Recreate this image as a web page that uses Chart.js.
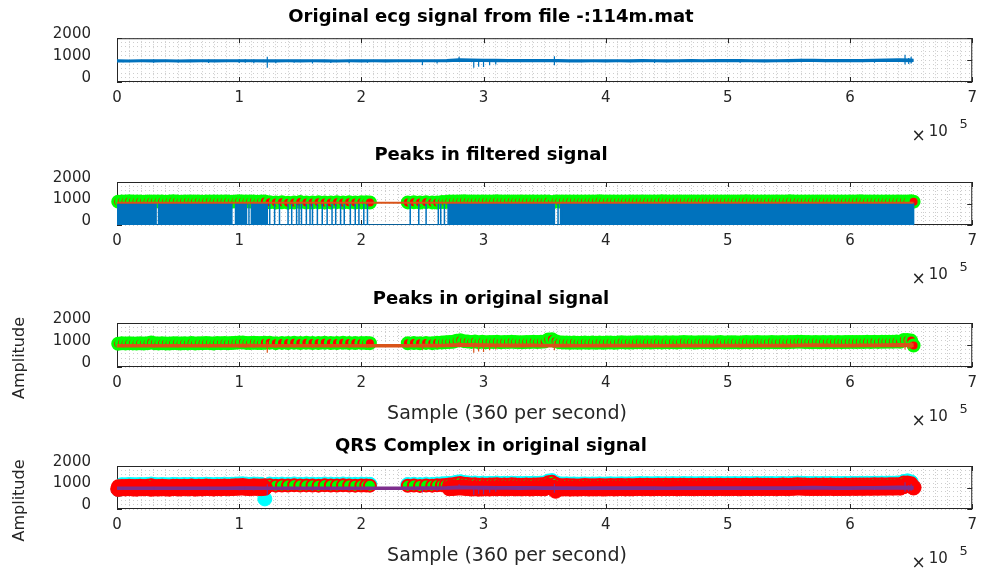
<!DOCTYPE html>
<html>
<head>
<meta charset="utf-8">
<title>ECG 114m</title>
<script src="https://cdn.jsdelivr.net/npm/chart.js@4.4.1/dist/chart.umd.min.js"></script>
<style>
  html, body { margin: 0; padding: 0; background: #fff; }
  #fig { position: relative; width: 984px; height: 575px; overflow: hidden; }
  #fig canvas { position: absolute; left: 0; }
</style>
</head>
<body>
<div id="fig">
  <canvas id="ax1" width="984" height="142" style="top:0px"></canvas>
  <canvas id="ax2" width="984" height="142" style="top:142px"></canvas>
  <canvas id="ax3" width="984" height="145" style="top:284px"></canvas>
  <canvas id="ax4" width="984" height="146" style="top:429px"></canvas>
</div>
<script>
// x is in samples x 10^5 (360 samples per second)
var titles = [
  'Original ecg signal from file -:114m.mat',
  'Peaks in filtered signal',
  'Peaks in original signal',
  'QRS Complex in original signal'
];
var xTickLabels = ['0', '1', '2', '3', '4', '5', '6', '7'];
var yTickLabels = ['0', '1000', '2000'];
var xAxisLabel = 'Sample (360 per second)';
var yAxisLabel = 'Amplitude';

// original ecg, upper and lower edge of the noise band
var ecgX = [0,0.1,0.2,0.3,0.4,0.5,0.6,0.7,0.8,0.9,
  1,1.1,1.2,1.3,1.4,1.5,1.6,1.7,1.8,1.9,
  2,2.1,2.2,2.3,2.4,2.5,2.6,2.7,2.8,2.9,
  3,3.1,3.2,3.3,3.4,3.5,3.6,3.7,3.8,3.9,
  4,4.1,4.2,4.3,4.4,4.5,4.6,4.7,4.8,4.9,
  5,5.1,5.2,5.3,5.4,5.5,5.6,5.7,5.8,5.9,
  6,6.1,6.2,6.3,6.4,6.5,6.52];
var ecgLo = [930,928,932,929,931,927,930,933,929,931,
  932,934,930,928,931,929,933,930,927,931,
  930,932,929,933,931,934,936,940,955,950,
  945,940,937,935,938,934,932,930,928,931,
  929,932,930,934,931,929,933,935,932,934,
  936,933,931,929,932,935,942,945,938,933,
  935,938,942,946,950,940,945];
var ecgHi = [1000,998,1003,999,1001,997,1000,1004,999,1002,
  1006,1008,1004,1000,1003,1001,1005,1002,998,1002,
  1001,1003,1000,1004,1002,1006,1010,1020,1045,1040,
  1030,1025,1020,1018,1021,1016,1012,1008,1005,1009,
  1006,1010,1007,1012,1008,1005,1010,1013,1009,1012,
  1015,1011,1008,1006,1010,1014,1025,1030,1020,1012,
  1015,1020,1028,1035,1045,1040,1030];

// single spikes standing out of the band
var spikeX  = [0.05,0.30,0.50,0.75,1.00,1.05,1.12,1.23,1.30,1.45,1.60,1.75,1.90,2.05,2.50,
  2.62,2.80,2.92,2.96,3.00,3.05,3.10,3.58,4.40,5.10,5.60,6.20,6.45,6.48,6.50];
var spikeLo = [900,880,890,870,870,880,860,650,860,880,850,870,860,880,780,
  840,950,650,700,680,760,800,760,870,880,900,880,800,820,850];
var spikeHi = [1010,1030,1020,1030,1040,1040,1030,1150,1010,1010,1010,1010,1010,1000,990,
  1000,1150,1020,1030,1040,1040,1030,1180,1040,1040,1060,1050,1240,1100,1150];

// filtered signal: solid blocks and single stems
var filtBlockStart = [0.00, 0.34, 0.97, 1.10, 2.71, 3.64];
var filtBlockEnd   = [0.32, 0.94, 1.06, 1.23, 3.58, 6.52];
var filtBlockTop   = [1000, 1000, 1000, 1000, 1000, 1000];
var filtStemX = [1.08,1.25,1.29,1.33,1.40,1.43,1.47,1.49,1.51,1.55,
  1.58,1.60,1.64,1.68,1.72,1.76,1.79,1.83,1.86,1.91,
  1.95,1.98,2.02,2.05,2.40,2.47,2.53,2.63,2.65,2.68,
  3.61,3.63];
var filtStemTop = [990,1000,985,995,1000,980,995,990,1000,985,
  995,1000,990,985,1000,995,990,1000,985,995,
  990,1000,985,995,1000,990,995,985,1000,990,
  995,1000];
var threshX = [0, 6.52];
var threshY = [1040, 1040];

// detected R peaks
var peakX = [0.01,0.04,0.07,0.10,0.13,0.16,0.19,0.22,0.25,0.28,
  0.31,0.34,0.37,0.40,0.43,0.46,0.49,0.52,0.55,0.58,
  0.61,0.64,0.67,0.70,0.73,0.76,0.79,0.82,0.85,0.88,
  0.91,0.94,0.97,1.00,1.03,1.06,1.09,1.12,1.15,1.18,
  1.21,
  1.25,1.30,1.35,1.40,1.45,1.50,1.55,1.60,1.65,1.70,
  1.75,1.80,1.85,1.90,1.95,2.00,2.04,2.07,
  2.38,2.43,2.48,2.53,2.58,2.62,2.66,2.69,
  2.72,2.75,2.78,2.81,2.84,2.87,2.90,2.93,2.96,2.99,
  3.02,3.05,3.08,3.11,3.14,3.17,3.20,3.23,3.26,3.29,
  3.32,3.35,3.38,3.41,3.44,3.47,3.50,3.53,3.56,3.59,
  3.62,3.65,3.68,3.71,3.74,3.77,3.80,3.83,3.86,3.89,
  3.92,3.95,3.98,4.01,4.04,4.07,4.10,4.13,4.16,4.19,
  4.22,4.25,4.28,4.31,4.34,4.37,4.40,4.43,4.46,4.49,
  4.52,4.55,4.58,4.61,4.64,4.67,4.70,4.73,4.76,4.79,
  4.82,4.85,4.88,4.91,4.94,4.97,5.00,5.03,5.06,5.09,
  5.12,5.15,5.18,5.21,5.24,5.27,5.30,5.33,5.36,5.39,
  5.42,5.45,5.48,5.51,5.54,5.57,5.60,5.63,5.66,5.69,
  5.72,5.75,5.78,5.81,5.84,5.87,5.90,5.93,5.96,5.99,
  6.02,6.05,6.08,6.11,6.14,6.17,6.20,6.23,6.26,6.29,
  6.32,6.35,6.38,6.41,6.44,6.47,6.50,6.52];
var filtPeakY = [1085,1095,1090,1100,1088,1092,1097,1085,1090,1094,
  1088,1096,1091,1086,1093,1099,1090,1087,1095,1092,
  1089,1094,1098,1086,1091,1095,1088,1093,1090,1097,
  1092,1086,1094,1099,1090,1088,1095,1091,1087,1093,
  1090,
  1060,1045,1055,1040,1050,1065,1048,1052,1058,1044,
  1050,1062,1047,1055,1049,1060,1053,1046,
  1050,1058,1045,1062,1052,1048,1066,1070,
  1092,1098,1090,1095,1100,1093,1088,1096,1091,1097,
  1094,1089,1095,1099,1092,1090,1096,1093,1088,1094,
  1097,1091,1095,1090,1098,1093,1089,1096,1060,1092,
  1095,1090,1098,1094,1089,1096,1092,1097,1091,1095,
  1093,1099,1090,1094,1096,1089,1095,1092,1098,1091,
  1094,1097,1090,1095,1093,1088,1096,1092,1099,1094,
  1091,1095,1098,1090,1094,1097,1092,1089,1096,1093,
  1095,1090,1098,1094,1091,1096,1093,1097,1090,1095,
  1092,1099,1094,1090,1096,1093,1088,1095,1097,1091,
  1094,1090,1096,1099,1092,1095,1089,1094,1097,1093,
  1090,1096,1092,1098,1094,1091,1095,1097,1090,1094,
  1096,1093,1099,1091,1095,1092,1098,1094,1090,1096,
  1093,1097,1091,1095,1098,1094,1100,1085];
var origPeakY = [1060,1075,1068,1080,1072,1065,1078,1070,1082,1110,
  1074,1066,1079,1071,1063,1085,1077,1069,1081,1073,
  1088,1067,1079,1074,1092,1083,1070,1086,1078,1095,
  1081,1090,1099,1108,1112,1096,1087,1102,1094,1088,
  1105,
  1100,1085,1095,1090,1102,1088,1097,1092,1086,1099,
  1094,1089,1101,1093,1087,1096,1091,1085,
  1080,1090,1075,1095,1085,1100,1110,1120,
  1135,1150,1190,1215,1175,1160,1140,1155,1130,1145,
  1125,1140,1135,1150,1128,1142,1133,1147,1138,1130,
  1126,1140,1132,1145,1137,1150,1160,1250,1265,1170,
  1120,1108,1115,1102,1110,1098,1106,1112,1100,1109,
  1104,1115,1101,1110,1118,1105,1112,1120,1108,1115,
  1110,1122,1130,1118,1126,1114,1121,1128,1116,1124,
  1119,1127,1115,1123,1131,1120,1126,1117,1124,1130,
  1121,1128,1116,1125,1133,1119,1127,1122,1130,1118,
  1126,1132,1120,1128,1135,1123,1130,1126,1133,1121,
  1129,1136,1124,1131,1140,1150,1145,1138,1132,1127,
  1134,1128,1136,1130,1139,1126,1133,1129,1137,1131,
  1140,1134,1142,1136,1145,1138,1147,1141,1150,1144,
  1152,1146,1155,1150,1230,1230,1200,980];
// Q and S points of the QRS complex
var qPeakY = [900,1130,1125,1140,1132,1128,1138,1130,1142,1160,
  1134,1126,1139,1131,1125,1145,1137,1129,1141,1133,
  1148,1127,1139,1134,1152,1143,1130,1146,1138,1155,
  1141,1150,1159,1168,1172,1156,1147,1162,1154,1148,
  470,
  1160,1150,1158,1152,1165,1150,1160,1155,1148,1162,
  1156,1151,1164,1155,1149,1158,1153,1147,
  1140,1150,1135,1155,1145,1160,1170,1180,
  1190,1205,1245,1270,1230,1215,1195,1210,1185,1200,
  1180,1195,1190,1205,1183,1197,1188,1202,1193,1185,
  1181,1195,1187,1200,1192,1205,1215,1300,1320,1225,
  1175,1163,1170,1157,1165,1153,1161,1167,1155,1164,
  1159,1170,1156,1165,1173,1160,1167,1175,1163,1170,
  1165,1177,1185,1173,1181,1169,1176,1183,1171,1179,
  1174,1182,1170,1178,1186,1175,1181,1172,1179,1185,
  1176,1183,1171,1180,1188,1174,1182,1177,1185,1173,
  1181,1187,1175,1183,1190,1178,1185,1181,1188,1176,
  1184,1191,1179,1186,1195,1205,1200,1193,1187,1182,
  1189,1183,1191,1185,1194,1181,1188,1184,1192,1186,
  1195,1189,1197,1191,1200,1193,1202,1196,1205,1199,
  1207,1201,1210,1205,1280,1310,1260,1030];
var sPeakY = [930,960,955,965,950,945,962,958,966,940,
  955,948,962,951,944,968,957,950,963,954,
  970,947,960,955,975,963,951,966,958,978,
  962,972,980,990,995,975,968,985,974,969,
  985,
  null,null,null,null,null,null,null,null,null,null,
  null,null,null,null,null,null,null,null,
  null,null,null,null,null,null,null,null,
  965,975,990,1000,985,970,950,960,945,955,
  960,950,965,958,970,955,962,968,957,963,
  958,966,954,962,970,959,965,1080,990,850,
  960,952,958,946,955,949,957,962,950,956,
  953,961,948,957,964,951,959,966,954,961,
  957,967,974,962,970,958,965,972,960,968,
  963,971,959,967,975,964,970,961,968,974,
  965,972,960,969,977,963,971,966,974,962,
  970,976,964,972,979,967,974,970,977,965,
  973,980,968,975,984,995,990,982,976,971,
  978,972,980,974,983,970,977,973,981,975,
  984,978,986,980,989,982,991,985,994,988,
  996,990,999,994,1060,1120,1080,1000];

var BLUE = '#0072BD', ORANGE = '#D95319', PURPLE = '#7E2F8E';
var FONT = 'DejaVu Sans';

function xy(xs, ys) {
  return xs.map(function (x, i) { return {x: x, y: ys[i]}; });
}

function spikePoints() {
  var out = [];
  spikeX.forEach(function (x, i) {
    out.push({x: x, y: spikeLo[i]}, {x: x, y: spikeHi[i]}, {x: x, y: null});
  });
  return out;
}

function filtPoints() {
  var pieces = [];
  filtBlockStart.forEach(function (s, i) {
    var e = filtBlockEnd[i], t = filtBlockTop[i];
    pieces.push([s, [{x: s, y: 0}, {x: s, y: t}, {x: e, y: t}, {x: e, y: 0}]]);
  });
  filtStemX.forEach(function (x, i) {
    pieces.push([x, [{x: x, y: 0}, {x: x, y: filtStemTop[i]}, {x: x, y: 0}]]);
  });
  pieces.sort(function (a, b) { return a[0] - b[0]; });
  return pieces.reduce(function (acc, p) { return acc.concat(p[1]); }, []);
}

// the signal drawn as a band plus its spikes (first in list = on top)
function signalSets(color, width) {
  return [
    {data: spikePoints(), borderColor: color, borderWidth: 1.2, pointRadius: 0},
    {data: xy(ecgX, ecgHi), borderColor: color, backgroundColor: color, borderWidth: width, pointRadius: 0, fill: '+1'},
    {data: xy(ecgX, ecgLo), borderColor: color, borderWidth: width, pointRadius: 0}
  ];
}

function markerSet(ys, face, edge, r, bw) {
  return {data: xy(peakX, ys), showLine: false, clip: false,
    pointRadius: r, pointBorderWidth: bw, pointBackgroundColor: face, pointBorderColor: edge};
}

function isMajor(v) { return Math.abs(v - Math.round(v)) < 1e-6; }

// MATLAB style box, inward ticks, exponent and axis labels
var matlabAxes = {
  id: 'matlabAxes',
  beforeDatasetsDraw: function (chart) {
    var ctx = chart.ctx, a = chart.chartArea, xs = chart.scales.x, ys = chart.scales.y;
    ctx.save();
    ctx.strokeStyle = '#262626';
    ctx.lineWidth = 1;
    ctx.beginPath();
    xs.ticks.forEach(function (t) {
      if (!isMajor(t.value)) return;
      var px = Math.round(xs.getPixelForValue(t.value)) + 0.5;
      ctx.moveTo(px, a.bottom); ctx.lineTo(px, a.bottom - 5);
      ctx.moveTo(px, a.top); ctx.lineTo(px, a.top + 5);
    });
    ys.ticks.forEach(function (t) {
      if (t.value % 1000 !== 0) return;
      var py = Math.round(ys.getPixelForValue(t.value)) + 0.5;
      ctx.moveTo(a.left, py); ctx.lineTo(a.left + 5, py);
      ctx.moveTo(a.right, py); ctx.lineTo(a.right - 5, py);
    });
    ctx.stroke();
    ctx.strokeRect(a.left + 0.5, a.top + 0.5, a.width - 1, a.height - 1);
    ctx.restore();
  },
  afterDraw: function (chart, args, opts) {
    var ctx = chart.ctx, a = chart.chartArea;
    ctx.save();
    ctx.fillStyle = '#262626';
    ctx.textAlign = 'center';
    ctx.textBaseline = 'middle';
    ctx.font = '17px "' + FONT + '"';
    ctx.fillText('\u00d7', a.right - 53.5, a.bottom + 55);
    ctx.font = '15px "' + FONT + '"';
    ctx.fillText('10', a.right - 34, a.bottom + 50);
    ctx.font = '13px "' + FONT + '"';
    ctx.fillText('5', a.right - 8.5, a.bottom + 43);
    if (opts.xlabel) {
      ctx.font = '19px "' + FONT + '"';
      ctx.fillText(opts.xlabel, a.left + 390, a.bottom + 47);
    }
    if (opts.ylabel) {
      ctx.translate(20, (a.top + a.bottom) / 2 + 13);
      ctx.rotate(-Math.PI / 2);
      ctx.font = '16px "' + FONT + '"';
      ctx.fillText(opts.ylabel, 0, 0);
    }
    ctx.restore();
  }
};

function makeAxes(id, title, titlePad, xHeight, datasets, labels) {
  var gridColor = '#cdcdcd';
  return new Chart(document.getElementById(id), {
    type: 'line',
    data: {datasets: datasets},
    options: {
      responsive: false,
      animation: false,
      events: [],
      layout: {autoPadding: false, padding: {left: 0, right: 2, top: 0, bottom: 0}},
      elements: {line: {tension: 0}},
      scales: {
        x: {
          type: 'linear', min: 0, max: 7,
          afterFit: function (s) { s.height = xHeight; },
          ticks: {
            stepSize: 0.1, autoSkip: false, maxRotation: 0, minRotation: 0, padding: 7,
            color: '#262626', font: {family: FONT, size: 15},
            callback: function (v) { return isMajor(v) ? xTickLabels[Math.round(v)] : ''; }
          },
          grid: {color: gridColor, lineWidth: 1, drawTicks: false},
          border: {display: false, dash: [1, 2]}
        },
        y: {
          min: 0, max: 2000,
          afterFit: function (s) { s.width = 117; },
          ticks: {
            stepSize: 200, autoSkip: false, padding: 26, labelOffset: -4,
            color: '#262626', font: {family: FONT, size: 15},
            callback: function (v) { return v % 1000 === 0 ? yTickLabels[v / 1000] : ''; }
          },
          grid: {color: gridColor, lineWidth: 1, drawTicks: false},
          border: {display: false, dash: [1, 3]}
        }
      },
      plugins: {
        legend: {display: false},
        tooltip: {enabled: false},
        title: {
          display: true, text: title, color: '#000',
          font: {family: FONT, size: 18, weight: 'bold'},
          padding: titlePad
        },
        matlabAxes: labels || {}
      }
    },
    plugins: [matlabAxes]
  });
}

// subplot 1: raw ecg
makeAxes('ax1', titles[0], {top: 6.2, bottom: 10.4}, 60, signalSets(BLUE, 1.5));

// subplot 2: filtered signal and its peaks
makeAxes('ax2', titles[1], {top: 2.7, bottom: 15.7}, 59, [
  {data: xy(threshX, threshY), borderColor: ORANGE, borderWidth: 2, pointRadius: 0},
  {data: filtPoints(), borderColor: BLUE, backgroundColor: BLUE, borderWidth: 1.5, pointRadius: 0, fill: 'origin'},
  markerSet(filtPeakY, '#ff0000', '#00ff00', 5.5, 3)
]);

// subplot 3: peaks on the original signal
makeAxes('ax3', titles[2], {top: 4.2, bottom: 13.2}, 62,
  signalSets(ORANGE, 2).concat([markerSet(origPeakY, '#ff0000', '#00ff00', 5.5, 3)]),
  {xlabel: xAxisLabel, ylabel: yAxisLabel});

// subplot 4: Q, R and S points
makeAxes('ax4', titles[3], {top: 6.2, bottom: 9.2}, 66,
  signalSets(PURPLE, 2).concat([
    markerSet(sPeakY, '#ff0000', '#ff0000', 7.5, 1),
    markerSet(origPeakY, '#00ff00', '#ff0000', 6, 2),
    markerSet(qPeakY, '#00ffff', '#00ffff', 7, 1)
  ]),
  {xlabel: xAxisLabel, ylabel: yAxisLabel});
</script>
</body>
</html>
